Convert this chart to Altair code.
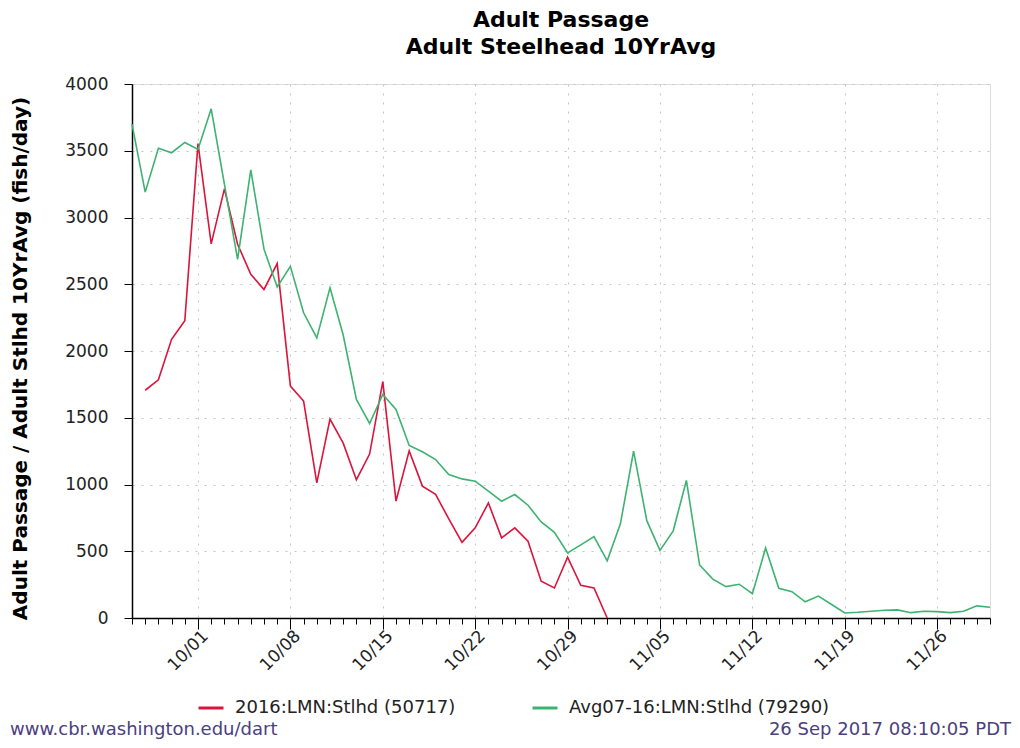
import json
import altair as alt
import pandas as pd

# ---------------- data ----------------
# day index 0 = 09/26 ... 65 = 11/30
week_labels = ["10/01", "10/08", "10/15", "10/22", "10/29", "11/05", "11/12", "11/19", "11/26"]
first_week_index = 5
n_days = 66

avg_name = "Avg07-16:LMN:Stlhd (79290)"
y2016_name = "2016:LMN:Stlhd (50717)"

avg_values = [3700, 3190, 3518, 3485, 3562, 3510, 3814, 3250, 2686, 3356,
              2763, 2480, 2634, 2286, 2098, 2474, 2120, 1637, 1457, 1675,
              1562, 1292, 1245, 1187, 1075, 1042, 1025, 950, 875, 925,
              845, 720, 642, 487, 548, 610, 428, 705, 1250, 729,
              506, 653, 1030, 397, 291, 235, 253, 182, 524, 223,
              197, 121, 164, 101, 38, 43, 51, 58, 61, 40,
              51, 48, 40, 51, 91, 81]

y2016_start_index = 1
y2016_values = [1706, 1784, 2088, 2227, 3554, 2802, 3214, 2800, 2575, 2461,
                2655, 1737, 1625, 1012, 1490, 1310, 1036, 1228, 1770, 876,
                1252, 988, 926, 742, 567, 675, 862, 600, 675, 575,
                275, 225, 455, 245, 225, 0]

series_names = [y2016_name, avg_name]
series_colors = ["#dc143c", "#3cb371"]

footer_left_text = "www.cbr.washington.edu/dart"
footer_right_text = "26 Sep 2017 08:10:05 PDT"

# ---------------- build table ----------------
rows = []
for i, v in enumerate(y2016_values):
    rows.append({"day": y2016_start_index + i, "fish": v, "series": y2016_name})
for i, v in enumerate(avg_values):
    rows.append({"day": i, "fish": v, "series": avg_name})
df = pd.DataFrame(rows)

FONT = "DejaVu Sans"
W, H = 858, 534
PAD_L, PAD_T = 124, 76
SVG_W, SVG_H = 1004, 732

week_test = f"(datum.value - {first_week_index}) % 7 == 0"
label_expr = (f"{week_test} ? {json.dumps(week_labels)}[(datum.value - {first_week_index}) / 7] : ''")

x_axis = alt.Axis(
    values=list(range(n_days)),
    labelExpr=label_expr,
    labelAngle=315,
    labelAlign="right",
    labelBaseline="middle",
    labelOverlap=False,
    labelFlush=False,
    labelPadding=4,
    labelOffset=7,
    labelFontSize=17,
    labelFont=FONT,
    labelColor="#222222",
    tickSize={"condition": {"test": week_test, "value": 11}, "value": 6},
    tickColor="#000000",
    tickWidth=1,
    domainColor="#000000",
    domainWidth=1.5,
    grid=True,
    gridColor="#c4c4c4",
    gridDash=[2, 7],
    gridWidth=1,
    gridOpacity={"condition": {"test": week_test, "value": 1}, "value": 0},
    title=None,
)

y_axis = alt.Axis(
    values=list(range(0, 4001, 500)),
    format="d",
    labelFontSize=17,
    labelFont=FONT,
    labelColor="#222222",
    labelPadding=16,
    tickSize=8,
    tickColor="#000000",
    domainColor="#000000",
    domainWidth=1.5,
    grid=True,
    gridColor="#c4c4c4",
    gridDash=[2, 7],
    gridWidth=1,
    title="Adult Passage / Adult Stlhd 10YrAvg (fish/day)",
    titleFont=FONT,
    titleFontSize=20,
    titleFontWeight="bold",
    titleColor="#000000",
    titleX=-112,
    titleY=H / 2 + 7,
    titleAngle=270,
    titleAlign="center",
    titleBaseline="middle",
)

lines = alt.Chart(df).mark_line(strokeWidth=1.6).encode(
    x=alt.X("day:Q", scale=alt.Scale(domain=[0, n_days - 1], nice=False, zero=False), axis=x_axis),
    y=alt.Y("fish:Q", scale=alt.Scale(domain=[0, 4000], nice=False), axis=y_axis),
    color=alt.Color(
        "series:N",
        scale=alt.Scale(domain=series_names, range=series_colors),
        legend=alt.Legend(
            orient="none",
            legendX=65,
            legendY=610,
            direction="horizontal",
            title=None,
            symbolType="stroke",
            symbolSize=625,
            symbolStrokeWidth=3,
            labelFontSize=18,
            labelFont=FONT,
            labelColor="#222222",
            labelOffset=10,
            columnPadding=70,
            labelLimit=500,
            padding=0,
        ),
    ),
    order="day:Q",
)

footer_left = alt.Chart(pd.DataFrame({"t": [footer_left_text]})).mark_text(
    align="left", baseline="alphabetic", fontSize=18, font=FONT, color="#4a4080"
).encode(x=alt.value(10 - 8 - PAD_L), y=alt.value(SVG_H - 5 - PAD_T), text="t:N")

footer_right = alt.Chart(pd.DataFrame({"t": [footer_right_text]})).mark_text(
    align="right", baseline="alphabetic", fontSize=18, font=FONT, color="#4a4080"
).encode(x=alt.value(SVG_W - 1 - PAD_L), y=alt.value(SVG_H - 5 - PAD_T), text="t:N")

chart = alt.layer(lines, footer_left, footer_right).properties(
    width=W,
    height=H,
    title=alt.TitleParams(
        text="Adult Passage",
        subtitle="Adult Steelhead 10YrAvg",
        font=FONT,
        subtitleFont=FONT,
        fontSize=22,
        subtitleFontSize=22,
        fontWeight="bold",
        subtitleFontWeight="bold",
        color="#000000",
        subtitleColor="#000000",
        anchor="middle",
        offset=16,
        subtitlePadding=5,
    ),
    autosize=alt.AutoSizeParams(type="none"),
    padding={"left": PAD_L, "top": PAD_T, "right": SVG_W - PAD_L - W, "bottom": SVG_H - PAD_T - H},
).configure_view(
    stroke="#000000", strokeWidth=1.5
).configure(background="#ffffff")

chart.save("out.html", embed_options={"renderer": "svg", "actions": False})
